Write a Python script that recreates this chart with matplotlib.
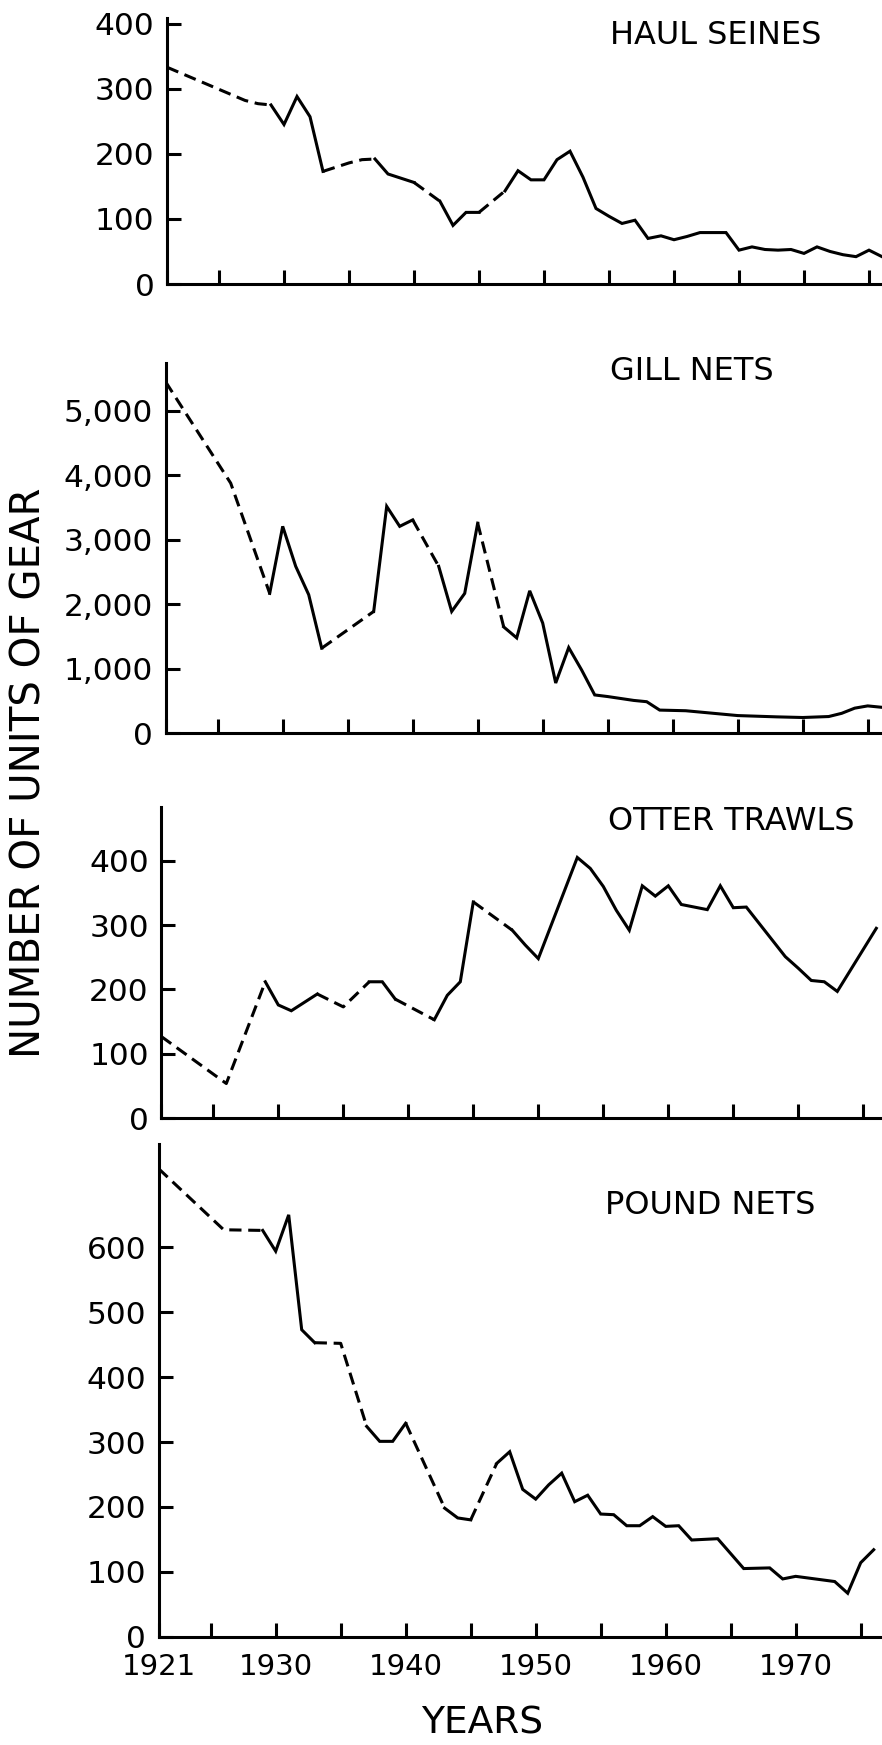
import numpy as np
import matplotlib
matplotlib.use("Agg")
import matplotlib.pyplot as plt

# values (vertices of each trace); dashed = estimated spans
haul_years = [1921, 1927, 1928, 1929, 1930, 1931, 1932, 1933, 1935, 1936, 1937, 1938,
              1940, 1942, 1943, 1944, 1945, 1947, 1948, 1949, 1950, 1951, 1952, 1953,
              1954, 1955, 1956, 1957, 1958, 1959, 1960, 1961, 1962, 1964, 1965, 1966,
              1967, 1968, 1969, 1970, 1971, 1972, 1973, 1974, 1975, 1976]
haul_values = [333, 282, 277, 275, 245, 288, 257, 173, 186, 191, 192, 169,
               156, 127, 90, 110, 110, 143, 174, 160, 160, 191, 204, 164,
               116, 104, 93, 98, 70, 74, 68, 73, 79, 79, 52, 57,
               53, 52, 53, 47, 57, 50, 45, 42, 52, 42]
haul_dashed = [(1921, 1929), (1933, 1937), (1940, 1942), (1945, 1947)]

gill_years = [1921, 1926, 1929, 1930, 1931, 1932, 1933, 1937, 1938, 1939, 1940, 1942,
              1943, 1944, 1945, 1947, 1948, 1949, 1950, 1951, 1952, 1953, 1954, 1955,
              1957, 1958, 1959, 1961, 1965, 1968, 1970, 1972, 1973, 1974, 1975, 1976]
gill_values = [5450, 3880, 2170, 3210, 2590, 2150, 1320, 1890, 3520, 3210, 3310, 2590,
               1890, 2170, 3260, 1650, 1480, 2210, 1710, 780, 1330, 980, 595, 570,
               510, 490, 360, 350, 275, 255, 245, 260, 310, 390, 425, 405]
gill_dashed = [(1921, 1929), (1933, 1937), (1940, 1942), (1945, 1947)]

otter_years = [1921, 1926, 1929, 1930, 1931, 1933, 1935, 1937, 1938, 1939, 1942, 1943,
               1944, 1945, 1948, 1949, 1950, 1953, 1954, 1955, 1956, 1957, 1958, 1959,
               1960, 1961, 1963, 1964, 1965, 1966, 1969, 1970, 1971, 1972, 1973, 1976]
otter_values = [127, 54, 212, 176, 167, 193, 173, 212, 212, 185, 153, 191,
                212, 336, 292, 269, 248, 405, 388, 360, 323, 292, 361, 345,
                361, 332, 324, 361, 327, 328, 251, 233, 214, 212, 197, 295]
otter_dashed = [(1921, 1929), (1933, 1937), (1939, 1942), (1945, 1948)]

pound_years = [1921, 1926, 1929, 1930, 1931, 1932, 1933, 1935, 1937, 1938, 1939, 1940,
               1943, 1944, 1945, 1947, 1948, 1949, 1950, 1951, 1952, 1953, 1954, 1955,
               1956, 1957, 1958, 1959, 1960, 1961, 1962, 1964, 1966, 1968, 1969, 1970,
               1973, 1974, 1975, 1976]
pound_values = [721, 627, 626, 594, 650, 473, 453, 452, 324, 301, 301, 329,
                198, 183, 180, 267, 285, 227, 212, 234, 252, 208, 218, 189,
                188, 171, 171, 185, 170, 171, 149, 151, 105, 106, 89, 93,
                85, 67, 114, 134]
pound_dashed = [(1921, 1929), (1933, 1937), (1940, 1943), (1945, 1947)]

titles = ["HAUL SEINES", "GILL NETS", "OTTER TRAWLS", "POUND NETS"]
yticks = [[0, 100, 200, 300, 400],
          [0, 1000, 2000, 3000, 4000, 5000],
          [0, 100, 200, 300, 400],
          [0, 100, 200, 300, 400, 500, 600]]
ytick_labels = [["0", "100", "200", "300", "400"],
                ["0", "1,000", "2,000", "3,000", "4,000", "5,000"],
                ["0", "100", "200", "300", "400"],
                ["0", "100", "200", "300", "400", "500", "600"]]
year_ticks = [1921, 1925, 1930, 1935, 1940, 1945, 1950, 1955, 1960, 1965, 1970, 1975]
year_labels = ["1921", "", "1930", "", "1940", "", "1950", "", "1960", "", "1970", ""]

W, H = 882, 1745
fig = plt.figure(figsize=(W / 100, H / 100), dpi=100)
plt.rcParams['font.family'] = ['DejaVu Sans']

# layout in pixels: left edge, y of zero line, upper y limit, pixels per unit
layout = [(167, 284, 408, 0.651),
          (165.7, 733.3, 5740, 0.06447),
          (161.3, 1118.3, 484, 0.644),
          (158.7, 1636.7, 759, 0.649)]
title_pos = [(610, 35), (610, 372), (608, 821), (605, 1206)]
px_per_year = 13.0
x_end = 1976.5

series = [(haul_years, haul_values, haul_dashed),
          (gill_years, gill_values, gill_dashed),
          (otter_years, otter_values, otter_dashed),
          (pound_years, pound_values, pound_dashed)]


def draw_series(ax, years, values, dashed):
    # split into runs of solid / dashed segments
    def is_dashed(a, b):
        return any(lo <= a and b <= hi for lo, hi in dashed)
    runs = []
    for i in range(len(years) - 1):
        d = is_dashed(years[i], years[i + 1])
        if runs and runs[-1][0] == d:
            runs[-1][1].append(i + 1)
        else:
            runs.append([d, [i, i + 1]])
    for d, idx in runs:
        xs = [years[j] for j in idx]
        ys = [values[j] for j in idx]
        ls = (0, (4, 2.2)) if d else '-'
        ax.plot(xs, ys, color='black', lw=2.2, linestyle=ls,
                solid_joinstyle='miter')


for k, (left, y0, ytop, ppu) in enumerate(layout):
    height = ytop * ppu
    width = (x_end - 1921) * px_per_year
    ax = fig.add_axes([left / W, 1 - y0 / H, width / W, height / H])
    years, values, dashed = series[k]
    draw_series(ax, years, values, dashed)
    ax.set_xlim(1921, x_end)
    ax.set_ylim(0, ytop)
    for s in ['top', 'right']:
        ax.spines[s].set_visible(False)
    for s in ['left', 'bottom']:
        ax.spines[s].set_linewidth(2.2)
    ax.set_yticks(yticks[k])
    ax.set_yticklabels(ytick_labels[k])
    ax.set_xticks(year_ticks)
    if k == 3:
        ax.set_xticklabels(year_labels)
    else:
        ax.set_xticklabels([])
    ax.tick_params(direction='in', length=10, width=2.2, pad=9)
    ax.tick_params(axis='y', labelsize=22.5)
    ax.tick_params(axis='x', labelsize=21, pad=12)
    ax.patch.set_alpha(0)
    tx, ty = title_pos[k]
    fig.text(tx / W, 1 - ty / H, titles[k], fontsize=23, ha='left', va='center')

fig.text(30 / W, 1 - 773 / H, "NUMBER OF UNITS OF GEAR", rotation=90,
         fontsize=29, ha='center', va='center')
fig.text(482 / W, 1 - 1724 / H, "YEARS", fontsize=27, ha='center', va='center')

fig.savefig("out.png", dpi=100)
